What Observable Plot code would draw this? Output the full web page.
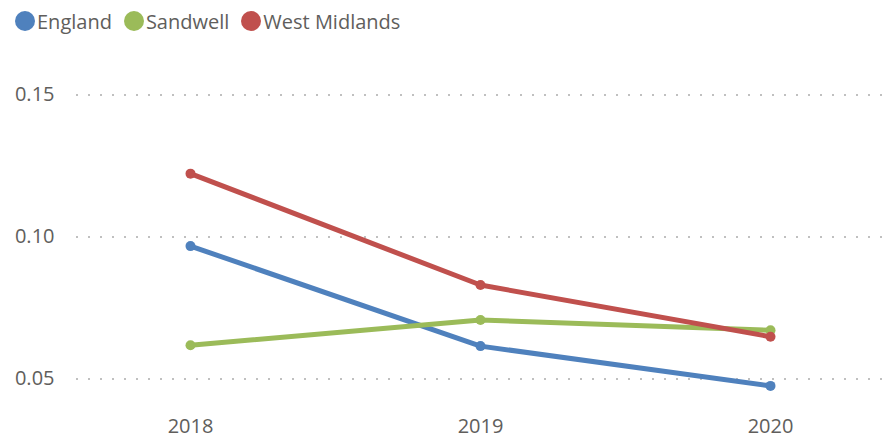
<!DOCTYPE html>
<html>
<head>
<meta charset="utf-8">
<script src="https://cdn.jsdelivr.net/npm/d3@7"></script>
<script src="https://cdn.jsdelivr.net/npm/@observablehq/plot@0.6"></script>
<style>
  html, body { margin: 0; padding: 0; background: #fff; }
  body { width: 883px; height: 439px; overflow: hidden; font-family: "Open Sans", sans-serif; }
  #legend { height: 40px; display: flex; align-items: center; padding-left: 15px; box-sizing: border-box; padding-top: 2px; }
  .item { display: flex; align-items: center; margin-right: 12px; font-size: 20px; color: #605E5C; }
  .sw { width: 20px; height: 20px; border-radius: 50%; margin-right: 2px; }
  #chart svg { display: block; }
</style>
</head>
<body>
<div id="legend"></div>
<div id="chart"></div>
<script>
const years = ["2018", "2019", "2020"];
const seriesNames = ["England", "Sandwell", "West Midlands"];
const england = [0.0968, 0.0616, 0.0476];
const sandwell = [0.0619, 0.0708, 0.0672];
const westMidlands = [0.1223, 0.0831, 0.0649];
const colors = ["#4F81BD", "#9BBB59", "#C0504D"];
const yTicks = [0.05, 0.10, 0.15];

const seriesValues = [england, sandwell, westMidlands];
const data = [];
seriesNames.forEach((name, i) => {
  years.forEach((yr, j) => data.push({series: name, year: yr, value: seriesValues[i][j]}));
});

const legend = document.getElementById("legend");
seriesNames.forEach((name, i) => {
  const it = document.createElement("div");
  it.className = "item";
  const sw = document.createElement("div");
  sw.className = "sw";
  sw.style.background = colors[i];
  it.appendChild(sw);
  const t = document.createElement("span");
  t.textContent = name;
  it.appendChild(t);
  legend.appendChild(it);
});

const chart = Plot.plot({
  width: 883,
  height: 399,
  marginLeft: 76,
  marginRight: 0,
  marginTop: 26,
  marginBottom: 32,
  style: {fontFamily: "Open Sans, sans-serif", fontSize: "20px", color: "#605E5C", background: "#fff"},
  x: {type: "point", domain: years, padding: 0.39, label: null},
  y: {domain: [0.04, 0.16], label: null},
  color: {domain: seriesNames, range: colors},
  marks: [
    Plot.gridY(yTicks, {stroke: "#c0c0c0", strokeOpacity: 1, strokeWidth: 2, strokeDasharray: "2,10"}),
    Plot.axisY(yTicks, {tickSize: 0, tickPadding: 22, tickFormat: d3.format(".2f"), label: null, fill: "#605E5C"}),
    Plot.axisX({tickSize: 0, tickPadding: 11, label: null, fill: "#605E5C"}),
    Plot.line(data, {x: "year", y: "value", z: "series", stroke: "series", strokeWidth: 5, strokeLinecap: "round", strokeLinejoin: "round"}),
    Plot.dot(data, {x: "year", y: "value", fill: "series", r: 5})
  ]
});
document.getElementById("chart").appendChild(chart);
</script>
</body>
</html>
